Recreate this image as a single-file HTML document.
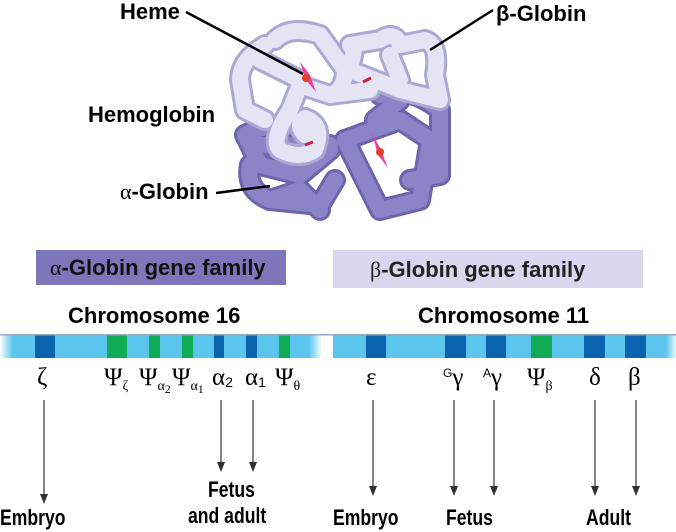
<!DOCTYPE html>
<html><head><meta charset="utf-8"><style>
body{margin:0;background:#fff;width:676px;height:532px;overflow:hidden;position:relative;font-family:"Liberation Sans",Arial,sans-serif}
.t{position:absolute;font-weight:bold;color:#000;white-space:nowrap;font-size:22px}
.n{position:absolute;font-weight:bold;color:#000;white-space:nowrap;font-size:22px;transform:scaleX(0.8);transform-origin:0 0}
.g{position:absolute;font-family:"Liberation Serif","DejaVu Serif",serif;font-size:25px;color:#000;white-space:nowrap}
sub{font-size:14px;vertical-align:-5px}
</style></head><body>
<svg width="676" height="532" style="position:absolute;left:0;top:0">
<defs>
<linearGradient id="fl" x1="0" x2="1"><stop offset="0" stop-color="#fff"/><stop offset="0.04" stop-color="#5bc5ee"/><stop offset="0.96" stop-color="#5bc5ee"/><stop offset="1" stop-color="#fff"/></linearGradient>
<linearGradient id="fr" x1="0" x2="1"><stop offset="0" stop-color="#5bc5ee"/><stop offset="0.97" stop-color="#5bc5ee"/><stop offset="1" stop-color="#e8f6fc"/></linearGradient>
</defs>
<g fill="none" stroke-linecap="round" stroke-linejoin="round">
<g stroke="#6c64ad" stroke-width="22">
<path d="M245 135 Q270 120 310 130 L330 150 L300 175 L260 165 L245 135 M250 165 Q245 190 270 200 L320 205 L335 180"/>
<path d="M345 140 L400 120 L430 140 L420 200 L380 210 L345 140 M380 95 Q410 85 440 110 L440 175 L410 180"/>
<path d="M270 200 L300 190 L320 210 M400 100 L375 120 M260 145 L330 145"/>
</g>
<g stroke="#8b84c6" stroke-width="16">
<path d="M245 135 Q270 120 310 130 L330 150 L300 175 L260 165 L245 135 M250 165 Q245 190 270 200 L320 205 L335 180"/>
<path d="M345 140 L400 120 L430 140 L420 200 L380 210 L345 140 M380 95 Q410 85 440 110 L440 175 L410 180"/>
<path d="M270 200 L300 190 L320 210 M400 100 L375 120 M260 145 L330 145"/>
</g>
<g stroke="#a9a9d3" stroke-width="22">
<path d="M275 40 Q290 25 320 35 L345 70 Q345 90 330 95 L300 85 L290 110 Q270 140 280 150 Q300 160 315 150 Q325 125 305 118 Q295 125 305 135"/>
<path d="M265 45 Q240 60 240 80 L245 110 L265 120 M260 60 L300 80"/>
<path d="M350 45 L380 40 Q395 30 400 45 L425 40 Q440 45 435 75 L440 100 L400 90 L350 70 L355 45"/>
<path d="M390 55 L400 80 M330 95 L370 90"/>
</g>
<g stroke="#e4e4f4" stroke-width="16">
<path d="M275 40 Q290 25 320 35 L345 70 Q345 90 330 95 L300 85 L290 110 Q270 140 280 150 Q300 160 315 150 Q325 125 305 118 Q295 125 305 135"/>
<path d="M265 45 Q240 60 240 80 L245 110 L265 120 M260 60 L300 80"/>
<path d="M350 45 L380 40 Q395 30 400 45 L425 40 Q440 45 435 75 L440 100 L400 90 L350 70 L355 45"/>
<path d="M390 55 L400 80 M330 95 L370 90"/>
</g>
</g>
<path d="M300 62 L310 75 L316 92 L306 80Z" fill="#f03ca0"/><circle cx="306" cy="78" r="4" fill="#e0402a"/>
<path d="M372 133 L380 148 L388 168 L378 155Z" fill="#f03ca0"/><circle cx="380" cy="152" r="4" fill="#e0402a"/>
<path d="M363 82 l8 -4 M305 145 l8 -3" stroke="#d0203a" stroke-width="3"/>
<g stroke="#000" stroke-width="2.5">
<line x1="186" y1="12" x2="303" y2="74"/>
<line x1="493" y1="10" x2="430" y2="50"/>
<line x1="216" y1="193" x2="270" y2="186"/>
</g>
<rect x="36" y="250" width="250" height="35" fill="#7d76bb"/>
<rect x="333" y="250" width="310" height="38" fill="#d9d6ee"/>
<rect x="0" y="335" width="322" height="23" fill="url(#fl)"/>
<rect x="333" y="335" width="343" height="23" fill="url(#fr)"/>
<g fill="#0a63ad">
<rect x="35" y="335" width="20" height="23"/><rect x="214" y="335" width="10" height="23"/><rect x="246" y="335" width="11" height="23"/>
<rect x="366" y="335" width="20" height="23"/><rect x="445" y="335" width="21" height="23"/><rect x="486" y="335" width="20" height="23"/><rect x="584" y="335" width="21" height="23"/><rect x="625" y="335" width="21" height="23"/>
</g>
<g fill="#0fac55">
<rect x="107" y="335" width="20" height="23"/><rect x="149" y="335" width="11" height="23"/><rect x="182" y="335" width="11" height="23"/><rect x="279" y="335" width="11" height="23"/><rect x="531" y="335" width="21" height="23"/>
</g>
<rect x="0" y="334" width="676" height="1.5" fill="#9ab"/>
<g stroke="#333" stroke-width="1.2">
<line x1="44" y1="400" x2="44" y2="496"/><line x1="221" y1="400" x2="221" y2="464"/><line x1="253" y1="400" x2="253" y2="464"/>
<line x1="373" y1="400" x2="373" y2="488"/><line x1="454" y1="400" x2="454" y2="488"/><line x1="494" y1="400" x2="494" y2="488"/><line x1="595" y1="400" x2="595" y2="488"/><line x1="636" y1="400" x2="636" y2="488"/>
</g>
<g fill="#333">
<path d="M40 494 L48 494 L44 504Z"/><path d="M217 462 L225 462 L221 472Z"/><path d="M249 462 L257 462 L253 472Z"/>
<path d="M369 486 L377 486 L373 496Z"/><path d="M450 486 L458 486 L454 496Z"/><path d="M490 486 L498 486 L494 496Z"/><path d="M591 486 L599 486 L595 496Z"/><path d="M632 486 L640 486 L636 496Z"/>
</g>
</svg>
<div class="t" style="left:120px;top:-1px">Heme</div>
<div class="t" style="left:496px;top:1px">β-Globin</div>
<div class="t" style="left:88px;top:102px">Hemoglobin</div>
<div class="t" style="left:120px;top:179px"><span style="font-family:'Liberation Serif',serif;font-weight:normal">α</span>-Globin</div>
<div class="t" style="left:50px;top:255px;color:#111"><span style="font-family:'Liberation Serif',serif;font-weight:normal">α</span>-Globin gene family</div>
<div class="t" style="left:370px;top:257px;color:#222"><span style="font-family:'Liberation Serif',serif;font-weight:normal">β</span>-Globin gene family</div>
<div class="t" style="left:68px;top:303px">Chromosome 16</div>
<div class="t" style="left:418px;top:303px">Chromosome 11</div>
<div class="g" style="left:37px;top:364px">ζ</div>
<div class="g" style="left:104px;top:364px">Ψ<sub>ζ</sub></div>
<div class="g" style="left:139px;top:364px">Ψ<sub>α<sub style="font-size:12px;vertical-align:-3px">2</sub></sub></div>
<div class="g" style="left:172px;top:364px">Ψ<sub>α<sub style="font-size:12px;vertical-align:-3px">1</sub></sub></div>
<div class="g" style="left:212px;top:364px">α<sub style="font-family:'Liberation Sans';vertical-align:-2px">2</sub></div>
<div class="g" style="left:245px;top:364px">α<sub style="font-family:'Liberation Sans';vertical-align:-2px">1</sub></div>
<div class="g" style="left:275px;top:364px">Ψ<sub>θ</sub></div>
<div class="g" style="left:366px;top:364px">ε</div>
<div class="g" style="left:443px;top:364px"><span style="font-family:'Liberation Sans';font-size:12px;vertical-align:8px">G</span>γ</div>
<div class="g" style="left:483px;top:364px"><span style="font-family:'Liberation Sans';font-size:12px;vertical-align:8px">A</span>γ</div>
<div class="g" style="left:527px;top:364px">Ψ<sub>β</sub></div>
<div class="g" style="left:589px;top:364px">δ</div>
<div class="g" style="left:628px;top:364px">β</div>
<div class="n" style="left:0px;top:505px">Embryo</div>
<div class="n" style="left:208px;top:477px">Fetus</div>
<div class="n" style="left:188px;top:503px">and adult</div>
<div class="n" style="left:333px;top:505px">Embryo</div>
<div class="n" style="left:446px;top:505px">Fetus</div>
<div class="n" style="left:586px;top:505px">Adult</div>
</body></html>
